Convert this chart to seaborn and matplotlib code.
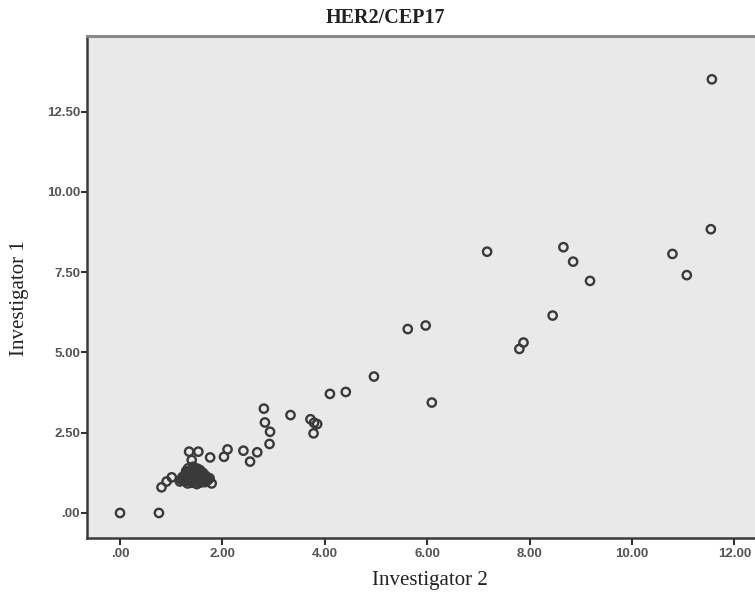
import matplotlib
matplotlib.use("Agg")
import matplotlib.pyplot as plt
import seaborn as sns
import pandas as pd

# Investigator 2 (x) and Investigator 1 (y) HER2/CEP17 ratios
inv2 = [0.00, 0.76, 0.81, 0.91, 1.01, 1.17, 1.79, 1.33, 1.43, 1.40, 1.35, 1.53,
        1.56, 1.76, 2.03, 2.10, 2.41, 2.68, 2.54, 2.92, 2.93, 2.83, 2.81, 3.33,
        3.72, 3.79, 3.85, 3.78, 4.10, 4.41, 4.96, 6.09, 5.62, 5.97, 7.80, 7.88,
        8.45, 7.17, 8.66, 8.85, 9.18, 10.79, 11.07, 11.54, 11.56,
        1.25, 1.30, 1.35, 1.40, 1.45, 1.50, 1.55, 1.60, 1.65, 1.28, 1.38, 1.48,
        1.42, 1.52, 1.62, 1.70, 1.32, 1.58, 1.46, 1.36, 1.55, 1.22, 1.68, 1.44,
        1.50, 1.29, 1.75,
        1.34, 1.39, 1.47, 1.53, 1.59, 1.64, 1.43, 1.49, 1.37, 1.57, 1.41, 1.51,
        1.61, 1.27, 1.45, 1.54, 1.66, 1.33, 1.47, 1.40, 1.72, 1.20]
inv1 = [0.00, 0.00, 0.80, 0.98, 1.11, 0.98, 0.92, 1.39, 1.44, 1.65, 1.91, 1.91,
        1.34, 1.73, 1.75, 1.98, 1.94, 1.89, 1.60, 2.15, 2.53, 2.82, 3.25, 3.05,
        2.92, 2.81, 2.77, 2.48, 3.71, 3.77, 4.25, 3.44, 5.73, 5.84, 5.11, 5.31,
        6.15, 8.14, 8.28, 7.83, 7.23, 8.07, 7.41, 8.84, 13.51,
        1.05, 1.10, 1.00, 1.15, 1.05, 1.20, 1.00, 1.10, 1.05, 1.20, 1.25, 1.30,
        0.95, 1.15, 1.25, 1.00, 0.92, 0.95, 1.12, 1.08, 1.28, 1.12, 1.15, 1.35,
        0.90, 1.30, 1.08,
        1.18, 1.02, 1.22, 1.06, 1.18, 1.02, 1.08, 0.98, 1.14, 1.12, 1.30, 1.38,
        1.08, 1.00, 1.18, 1.22, 0.96, 1.26, 1.02, 0.94, 1.05, 1.04]

xticks = [0, 2, 4, 6, 8, 10, 12]
xticklabels = [".00", "2.00", "4.00", "6.00", "8.00", "10.00", "12.00"]
yticks = [0, 2.5, 5, 7.5, 10, 12.5]
yticklabels = [".00", "2.50", "5.00", "7.50", "10.00", "12.50"]

df = pd.DataFrame({"Investigator 2": inv2, "Investigator 1": inv1})

sns.set_style("white")
W, H = 755, 594
fig = plt.figure(figsize=(W / 100, H / 100), dpi=100)
ax = fig.add_axes([87 / W, 1 - 538 / H, (762 - 87) / W, (538 - 36) / H])
ax.set_facecolor("#e9e9e9")

sns.scatterplot(data=df, x="Investigator 2", y="Investigator 1", ax=ax,
                marker="o", s=36, facecolor="none", edgecolor="#3a3a3a",
                linewidth=1.7)

ax.set_xlim(-0.645, (762 - 120) / 51.2)
ax.set_ylim(-0.78, 14.86)
ax.set_xticks(xticks)
ax.set_xticklabels(xticklabels)
ax.set_yticks(yticks)
ax.set_yticklabels(yticklabels)
ax.set_xlabel("")
ax.set_ylabel("")

for lab in ax.get_xticklabels() + ax.get_yticklabels():
    lab.set_family("Liberation Sans")
    lab.set_fontsize(9.5)
    lab.set_fontweight("bold")
    lab.set_color("#555555")

ax.tick_params(axis="x", direction="out", length=5, width=1.5, color="#333333", pad=2.5, bottom=True)
ax.tick_params(axis="y", direction="out", length=4, width=1.5, color="#333333", pad=1, left=True)

for side in ["left", "bottom"]:
    ax.spines[side].set_color("#3a3a3a")
    ax.spines[side].set_linewidth(1.8)
ax.spines["top"].set_color("#8a8a8a")
ax.spines["top"].set_linewidth(2.2)
ax.spines["right"].set_visible(False)

fig.text(385 / W, 1 - 18 / H, "HER2/CEP17", ha="center", va="center",
         family="Liberation Serif", fontweight="bold", fontsize=14.5, color="#222222")
fig.text(430 / W, 1 - 581 / H, "Investigator 2", ha="center", va="center",
         family="Liberation Serif", fontsize=15, color="#222222")
fig.text(20 / W, 1 - 298 / H, "Investigator 1", ha="center", va="center",
         rotation=90, family="Liberation Serif", fontsize=15, color="#222222")

fig.savefig("out.png", dpi=100)
